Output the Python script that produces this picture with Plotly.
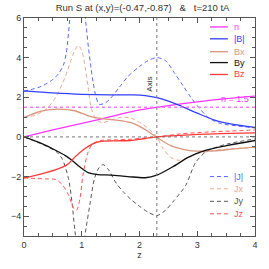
import plotly.graph_objects as go

# ---------------- data ----------------
n_z = [0, 0.5, 1.0, 1.5, 2.0, 2.5, 3.0, 3.5, 4.0]
n_v = [0, 0.35, 0.68, 1.02, 1.36, 1.58, 1.77, 1.93, 2.06]

B_z = [0, 0.5, 1.0, 1.5, 1.9, 2.1, 2.3, 2.5, 2.7, 3.0, 3.3, 3.6, 4.0]
B_v = [2.32, 2.22, 2.15, 2.12, 2.12, 2.08, 1.98, 1.8, 1.58, 1.2, 0.85, 0.65, 0.48]

Bx_z = [0, 0.3, 0.6, 0.88, 1.1, 1.33, 1.6, 1.84, 2.07, 2.3, 2.55, 2.8, 3.0, 3.3, 3.6, 4.0]
Bx_v = [0.98, 1.3, 1.4, 1.32, 1.08, 0.93, 0.85, 0.73, 0.42, -0.02, -0.45, -0.65, -0.72, -0.7, -0.62, -0.52]

By_z = [0, 0.32, 0.55, 0.71, 0.83, 0.97, 1.11, 1.28, 1.5, 1.8, 2.1, 2.3, 2.57, 2.85, 3.14, 3.53, 4.0]
By_v = [0, -0.35, -0.68, -0.93, -1.18, -1.52, -1.8, -1.9, -1.93, -2.0, -2.06, -1.93, -1.52, -1.02, -0.68, -0.43, -0.18]

Bz_z = [0, 0.32, 0.6, 0.77, 0.88, 1.05, 1.19, 1.33, 1.6, 1.84, 2.1, 2.3, 2.7, 3.2, 3.6, 4.0]
Bz_v = [-2.07, -1.85, -1.6, -1.35, -1.02, -0.6, -0.35, -0.23, -0.2, -0.18, -0.08, 0, 0.08, 0.14, 0.18, 0.2]

J_z = [0, 0.3, 0.5, 0.6, 0.68, 0.73, 0.77, 0.8, 0.85, 0.92, 0.98, 1.04, 1.08, 1.12, 1.16, 1.2, 1.25, 1.3,
       1.4, 1.5, 1.65, 1.8, 2.0, 2.15, 2.3, 2.45, 2.6, 2.75, 2.9, 3.05, 3.2, 3.4, 3.7, 4.0]
J_v = [2.3, 2.55, 2.9, 3.2, 3.6, 4.2, 5.2, 6.2, 7.2, 7.8, 7.6, 6.6, 5.5, 4.4, 3.5, 2.7, 2.0, 1.65,
       1.7, 1.95, 2.5, 3.05, 3.55, 3.85, 4.0, 3.85, 3.25, 2.6, 1.95, 1.4, 0.95, 0.68, 0.55, 0.45]

Jx_z = [0, 0.2, 0.4, 0.55, 0.71, 0.8, 0.87, 0.94, 1.0, 1.06, 1.11, 1.17, 1.25, 1.35, 1.5, 1.7, 1.85,
        2.05, 2.2, 2.3, 2.4, 2.55, 2.68, 2.85, 3.0, 3.3, 3.6, 4.0]
Jx_v = [0.98, 1.1, 1.45, 2.0, 3.0, 3.75, 4.3, 4.62, 4.35, 3.5, 2.5, 1.4, 0.9, 0.72, 0.85, 1.0, 0.95,
        0.65, 0.3, 0.0, -0.55, -1.05, -1.18, -1.05, -0.85, -0.68, -0.6, -0.52]

Jy_z = [0, 0.32, 0.55, 0.66, 0.77, 0.83, 0.88, 0.92, 0.98, 1.03, 1.08, 1.14, 1.22, 1.3, 1.37, 1.45,
        1.6, 1.73, 1.85, 2.0, 2.15, 2.3, 2.45, 2.6, 2.8, 2.97, 3.14, 3.3, 3.53, 4.0]
Jy_v = [0, -0.38, -0.72, -1.1, -2.1, -3.27, -4.7, -5.5, -6.0, -5.4, -4.5, -3.43, -2.1, -1.55, -1.4, -1.6,
        -2.35, -2.8, -3.15, -3.5, -3.8, -3.97, -3.7, -3.2, -2.45, -1.3, -0.77, -0.55, -0.35, -0.1]

Jz_z = [0, 0.2, 0.4, 0.55, 0.66, 0.77, 0.86, 0.91, 0.97, 1.02, 1.11, 1.19, 1.33, 1.6, 1.84, 2.1, 2.3,
        2.7, 3.2, 3.6, 4.0]
Jz_v = [-2.07, -2.1, -2.12, -2.15, -2.4, -2.93, -3.6, -3.7, -3.1, -1.93, -0.77, -0.35, -0.18, -0.15,
        -0.12, -0.05, 0, 0.15, 0.25, 0.3, 0.35]

axis_z = 2.3
n_level = 1.5

# ---------------- styles ----------------
C_N = "#FF33FF"
C_B = "#3340FF"
C_BX = "#D8957C"
C_BY = "#111111"
C_BZ = "#FF3838"
C_J = "#5566FF"
C_JX = "#E5AA95"
C_JY = "#555555"
C_JZ = "#FF5050"
DASH = "4px,3px"
FONT = "Liberation Sans"

fig = go.Figure()

solid = [("n", n_z, n_v, C_N), ("|B|", B_z, B_v, C_B), ("Bx", Bx_z, Bx_v, C_BX),
         ("By", By_z, By_v, C_BY), ("Bz", Bz_z, Bz_v, C_BZ)]
dashed = [("|J|", J_z, J_v, C_J), ("Jx", Jx_z, Jx_v, C_JX), ("Jy", Jy_z, Jy_v, C_JY),
          ("Jz", Jz_z, Jz_v, C_JZ)]

for name, zz, vv, c in dashed:
    fig.add_trace(go.Scatter(x=zz, y=vv, mode="lines", name=name,
                             line=dict(color=c, width=1, dash=DASH, shape="spline", smoothing=0.8),
                             showlegend=False))
for name, zz, vv, c in solid:
    fig.add_trace(go.Scatter(x=zz, y=vv, mode="lines", name=name,
                             line=dict(color=c, width=1.3, shape="spline", smoothing=0.8),
                             showlegend=False))

shapes = [
    dict(type="line", xref="x", yref="y", x0=0, x1=4, y0=0, y1=0,
         line=dict(color="#777777", width=1, dash="dot")),
    dict(type="line", xref="x", yref="y", x0=0, x1=4, y0=n_level, y1=n_level,
         line=dict(color="#FF77FF", width=1.6, dash="dot")),
    dict(type="line", xref="x", yref="y", x0=axis_z, x1=axis_z, y0=-5, y1=6,
         line=dict(color="#777777", width=1, dash="dot")),
]

annotations = [
    dict(x=axis_z, y=2.65, xref="x", yref="y", text="Axis", textangle=-90, showarrow=False,
         xanchor="right", xshift=-1, font=dict(family=FONT, size=8, color="#333333")),
    dict(x=3.65, y=1.55, xref="x", yref="y", text="n = 1.5", showarrow=False,
         yanchor="bottom", font=dict(family=FONT, size=9, color=C_N)),
]

# legends (drawn as lines + text)
leg1_y = [5.55, 4.95, 4.3, 3.75, 3.15]
leg2_y = [-2.0, -2.62, -3.25, -3.88]
for (name, _, _, c), yy in zip(solid, leg1_y):
    shapes.append(dict(type="line", xref="x", yref="y", x0=3.22, x1=3.53, y0=yy, y1=yy,
                       line=dict(color=c, width=1.3)))
    annotations.append(dict(x=3.6, y=yy, xref="x", yref="y", text=name, showarrow=False,
                            xanchor="left", font=dict(family=FONT, size=9, color=c)))
for (name, _, _, c), yy in zip(dashed, leg2_y):
    shapes.append(dict(type="line", xref="x", yref="y", x0=3.22, x1=3.53, y0=yy, y1=yy,
                       line=dict(color=c, width=1, dash=DASH)))
    annotations.append(dict(x=3.6, y=yy, xref="x", yref="y", text=name, showarrow=False,
                            xanchor="left", font=dict(family=FONT, size=9, color=c)))

title_text = "Run S at (x,y)=(-0.47,-0.87)\u00a0\u00a0\u00a0&\u00a0\u00a0\u00a0t=210 tA"

fig.update_layout(
    width=269, height=269,
    margin=dict(l=21, r=11, t=18, b=30),
    paper_bgcolor="white", plot_bgcolor="white",
    title=dict(text=title_text, x=0.53, xanchor="center",
               y=0.985, yanchor="top", font=dict(family=FONT, size=9.5, color="#333333")),
    shapes=shapes, annotations=annotations,
    font=dict(family=FONT, size=9, color="#333333"),
)
fig.update_xaxes(range=[0, 4], dtick=1, tick0=0, ticks="inside", ticklen=5, tickcolor="#555555",
                 showgrid=False, zeroline=False, showline=True, linecolor="#555555", mirror="ticks",
                 minor=dict(dtick=0.25, ticks="inside", ticklen=3, tickcolor="#555555"),
                 title=dict(text="z", standoff=2, font=dict(size=9)), tickfont=dict(size=9))
fig.update_yaxes(range=[-5, 6], dtick=2, tick0=0, ticks="inside", ticklen=5, tickcolor="#555555",
                 showgrid=False, zeroline=False, showline=True, linecolor="#555555", mirror="ticks",
                 minor=dict(dtick=0.5, ticks="inside", ticklen=3, tickcolor="#555555"),
                 tickfont=dict(size=9))

fig.write_html("out.html", config={"displayModeBar": False},
               post_script="document.body.style.margin='0';document.body.style.overflow='hidden';")
